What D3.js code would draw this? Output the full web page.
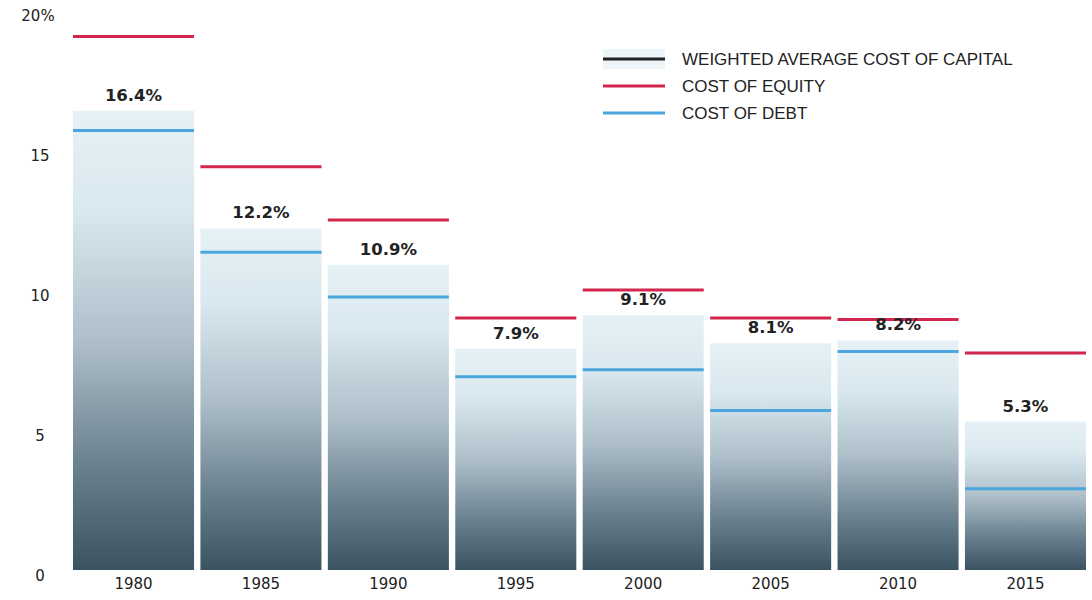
<!DOCTYPE html>
<html>
<head>
<meta charset="utf-8">
<script src="https://cdn.jsdelivr.net/npm/d3@7"></script>
<style>
  body { margin: 0; background: #fff; }
</style>
</head>
<body>
<div id="container"></div>
<script>
let w = 1092;
let h = 600;

// values per period
let years = ["1980", "1985", "1990", "1995", "2000", "2005", "2010", "2015"];
let wacc = [16.4, 12.2, 10.9, 7.9, 9.1, 8.1, 8.2, 5.3];
let costEquity = [19.05, 14.4, 12.5, 9.0, 10.0, 9.0, 8.95, 7.75];
let costDebt = [15.7, 11.35, 9.75, 6.9, 7.15, 5.7, 7.8, 2.9];
let yTicks = [0, 5, 10, 15, 20];
let legendItems = ["WEIGHTED AVERAGE COST OF CAPITAL", "COST OF EQUITY", "COST OF DEBT"];

let rows = years.map(function(y, i){
  return { year: y, wacc: wacc[i], equity: costEquity[i], debt: costDebt[i] };
});

let viz = d3.select("#container")
  .append("svg")
    .attr("width", w)
    .attr("height", h)
    .style("background-color", "white")
;

let xScale = d3.scaleBand().domain(years).range([73, 1086]).paddingInner(0.05);
let yScale = d3.scaleLinear().domain([0, 20]).range([570, 10]);

// vertical fade used for each bar
let defs = viz.append("defs");
let grad = defs.append("linearGradient")
    .attr("id", "barFade")
    .attr("x1", 0).attr("y1", 1)
    .attr("x2", 0).attr("y2", 0)
;
grad.append("stop").attr("offset", "0%").attr("stop-color", "#3b5361");
grad.append("stop").attr("offset", "22%").attr("stop-color", "#687f8d");
grad.append("stop").attr("offset", "50%").attr("stop-color", "#aebfca");
grad.append("stop").attr("offset", "78%").attr("stop-color", "#d9e8ef");
grad.append("stop").attr("offset", "100%").attr("stop-color", "#e6f1f6");

// y axis labels
let yAxis = d3.axisLeft(yScale)
    .tickValues(yTicks)
    .tickSize(0)
    .tickFormat(function(d){ return d == 20 ? "20%" : d; })
;
let yAxisGroup = viz.append("g")
    .attr("transform", "translate(52,0)")
    .call(yAxis)
;
yAxisGroup.select(".domain").remove();
yAxisGroup.selectAll("text")
    .attr("x", function(d){ return d == 20 ? -14 : -12; })
    .attr("dy", "0.7em")
    .attr("font-family", "'DejaVu Sans', sans-serif")
    .attr("font-size", 15)
    .attr("fill", "#222")
    .style("text-anchor", "middle")
;

// x axis labels
let xAxis = d3.axisBottom(xScale).tickSize(0);
let xAxisGroup = viz.append("g")
    .attr("transform", "translate(0,572)")
    .call(xAxis)
;
xAxisGroup.select(".domain").remove();
xAxisGroup.selectAll("text")
    .attr("dy", "0.95em")
    .attr("font-family", "'DejaVu Sans', sans-serif")
    .attr("font-size", 15)
    .attr("fill", "#222")
;

let datagroups = viz.selectAll(".datagroup").data(rows).enter()
  .append("g")
    .classed("datagroup", true)
;

datagroups.append("rect")
    .attr("x", function(d){ return xScale(d.year); })
    .attr("y", function(d){ return yScale(d.wacc); })
    .attr("width", xScale.bandwidth())
    .attr("height", function(d){ return yScale(0) - yScale(d.wacc); })
    .attr("fill", "url(#barFade)")
;

datagroups.append("line")
    .attr("x1", function(d){ return xScale(d.year); })
    .attr("x2", function(d){ return xScale(d.year) + xScale.bandwidth(); })
    .attr("y1", function(d){ return yScale(d.equity); })
    .attr("y2", function(d){ return yScale(d.equity); })
    .attr("stroke", "#d2264f")
    .attr("stroke-width", 3)
;

datagroups.append("line")
    .attr("x1", function(d){ return xScale(d.year); })
    .attr("x2", function(d){ return xScale(d.year) + xScale.bandwidth(); })
    .attr("y1", function(d){ return yScale(d.debt); })
    .attr("y2", function(d){ return yScale(d.debt); })
    .attr("stroke", "#4aa6dc")
    .attr("stroke-width", 3)
;

datagroups.append("text")
    .text(function(d){ return d.wacc.toFixed(1) + "%"; })
    .attr("x", function(d){ return xScale(d.year) + xScale.bandwidth() / 2; })
    .attr("y", function(d){ return yScale(d.wacc) - 10; })
    .attr("text-anchor", "middle")
    .attr("font-family", "'DejaVu Sans', sans-serif")
    .attr("font-weight", "bold")
    .attr("font-size", 16.5)
    .attr("fill", "#222")
;

// legend
let legend = viz.append("g").attr("transform", "translate(603,59)");
let legendRows = legend.selectAll(".legendrow").data(legendItems).enter()
  .append("g")
    .classed("legendrow", true)
    .attr("transform", function(d, i){ return "translate(0," + (i * 27) + ")"; })
;
legendRows.append("rect")
    .attr("x", 0)
    .attr("y", function(d, i){ return i == 0 ? -10 : -1.5; })
    .attr("width", 62)
    .attr("height", function(d, i){ return i == 0 ? 20 : 3; })
    .attr("fill", function(d, i){ return ["#eef5f8", "#d2264f", "#4aa6dc"][i]; })
;
legend.append("rect")
    .attr("x", 0).attr("y", -1.5)
    .attr("width", 62).attr("height", 3)
    .attr("fill", "#222")
;
legendRows.append("text")
    .text(function(d){ return d; })
    .attr("x", 79)
    .attr("dy", "0.35em")
    .attr("font-family", "'Liberation Sans', Arial, sans-serif")
    .attr("font-size", 17)
    .attr("fill", "#222")
;
</script>
</body>
</html>
